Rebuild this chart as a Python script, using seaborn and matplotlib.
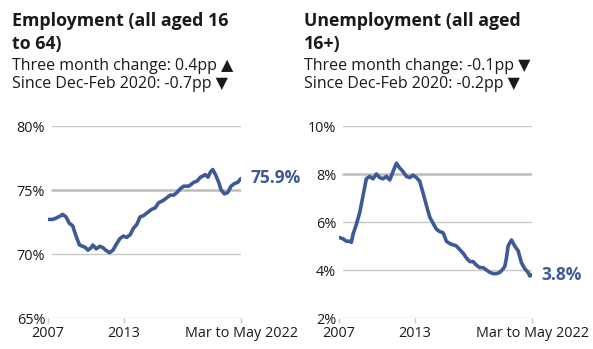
import numpy as np
import pandas as pd
import matplotlib
matplotlib.use("Agg")
import matplotlib.pyplot as plt
import seaborn as sns

sns.set_theme(style="white")
plt.rcParams['font.family'] = ['Open Sans', 'DejaVu Sans']

# ---- data (decimal years, % values) ----
emp_years = [2007.05, 2007.37, 2007.63, 2008.03, 2008.16, 2008.43, 2008.70, 2008.96, 2009.23,
             2009.50, 2009.77, 2009.98, 2010.17, 2010.43, 2010.56, 2010.83, 2011.10, 2011.36,
             2011.58, 2011.89, 2012.16, 2012.45, 2012.71, 2012.98, 2013.25, 2013.52, 2013.78,
             2014.05, 2014.32, 2014.59, 2014.85, 2015.25, 2015.51, 2015.78, 2016.18, 2016.44,
             2016.71, 2016.98, 2017.24, 2017.51, 2017.78, 2018.18, 2018.58, 2018.84, 2019.11,
             2019.32, 2019.50, 2019.71, 2019.90, 2020.09, 2020.35, 2020.56, 2020.75, 2021.01,
             2021.28, 2021.54, 2021.81, 2022.07, 2022.33]
emp_values = [72.7, 72.7, 72.8, 73.0, 73.1, 72.9, 72.4, 72.2, 71.4,
              70.7, 70.6, 70.5, 70.3, 70.5, 70.7, 70.4, 70.6, 70.5,
              70.3, 70.1, 70.3, 70.8, 71.2, 71.4, 71.3, 71.5, 72.0,
              72.3, 72.9, 73.0, 73.2, 73.5, 73.6, 74.0, 74.2, 74.4,
              74.6, 74.6, 74.8, 75.1, 75.3, 75.3, 75.6, 75.7, 76.0,
              76.1, 76.2, 76.0, 76.4, 76.6, 76.1, 75.6, 75.0, 74.7,
              74.8, 75.3, 75.5, 75.6, 75.9]

unemp_years = [2007.05, 2007.32, 2007.58, 2007.85, 2007.98, 2008.12, 2008.38, 2008.65, 2008.91,
               2009.17, 2009.44, 2009.70, 2009.97, 2010.23, 2010.50, 2010.76, 2011.03, 2011.29,
               2011.56, 2011.82, 2012.09, 2012.35, 2012.62, 2012.88, 2013.15, 2013.41, 2013.68,
               2013.94, 2014.21, 2014.47, 2014.74, 2015.00, 2015.27, 2015.53, 2015.80, 2016.06,
               2016.33, 2016.59, 2016.86, 2017.12, 2017.39, 2017.65, 2017.92, 2018.18, 2018.45,
               2018.71, 2018.98, 2019.24, 2019.51, 2019.77, 2020.04, 2020.17, 2020.30, 2020.43,
               2020.70, 2020.96, 2021.23, 2021.49, 2021.76, 2022.02, 2022.15, 2022.33]
unemp_values = [5.35, 5.3, 5.2, 5.2, 5.15, 5.5, 5.9, 6.4, 7.1,
                7.8, 7.9, 7.8, 8.0, 7.85, 7.8, 7.9, 7.75, 8.1,
                8.45, 8.25, 8.1, 7.9, 7.85, 7.95, 7.85, 7.7, 7.2,
                6.7, 6.2, 5.95, 5.7, 5.6, 5.55, 5.2, 5.1, 5.05,
                5.0, 4.85, 4.7, 4.5, 4.35, 4.35, 4.2, 4.1, 4.1,
                4.0, 3.9, 3.85, 3.85, 3.9, 4.05, 4.15, 4.5, 5.0,
                5.25, 5.0, 4.8, 4.3, 4.05, 3.9, 3.75, 3.8]

titles = ["Employment (all aged 16\nto 64)", "Unemployment (all aged\n16+)"]
subtitles = ["Three month change: 0.4pp \u25b2\nSince Dec-Feb 2020: -0.7pp \u25bc",
             "Three month change: -0.1pp \u25bc\nSince Dec-Feb 2020: -0.2pp \u25bc"]
end_labels = ["75.9%", "3.8%"]
y_ticks = [[65, 70, 75, 80], [2, 4, 6, 8, 10]]
y_ticklabels = [["65%", "70%", "75%", "80%"], ["2%", "4%", "6%", "8%", "10%"]]
highlight = [75, 8]
x_ticks = [2007.0, 2013.0, 2022.33]
x_ticklabels = ["2007", "2013", "Mar to May 2022"]

LINE = "#3d5a96"
GRID = "#c8c8c8"
TXT = "#1a1a1a"

W, H = 593, 349
fig = plt.figure(figsize=(W / 100, H / 100), dpi=100)

axes_px = [(48, 241), (339, 532)]
top_px, bot_px = 126, 318

series = [(emp_years, emp_values), (unemp_years, unemp_values)]
title_x = [12, 304]

for i in range(2):
    l, r = axes_px[i]
    ax = fig.add_axes([l / W, 1 - bot_px / H, (r - l) / W, (bot_px - top_px) / H])
    df = pd.DataFrame({"year": series[i][0], "value": series[i][1]})
    sns.lineplot(data=df, x="year", y="value", ax=ax, color=LINE, linewidth=2.6, zorder=3)
    ax.set_xlim(2007.0, 2022.33)
    ax.set_ylim(y_ticks[i][0], y_ticks[i][-1])
    for v in y_ticks[i]:
        lw = 1.8 if v == highlight[i] else 1.0
        col = "#bdbdbd" if v == highlight[i] else GRID
        ax.axhline(v, xmin=0.02, xmax=1, color=col, lw=lw, zorder=1)
    ax.set_yticks(y_ticks[i])
    ax.set_yticklabels(y_ticklabels[i], fontsize=10.4, color=TXT)
    ax.set_xticks(x_ticks)
    ax.set_xticklabels(x_ticklabels, fontsize=10.4, color=TXT)
    ax.tick_params(axis="y", length=0, pad=2)
    ax.tick_params(axis="x", length=3.6, width=1, color=GRID, pad=2, bottom=True)
    for s in ax.spines.values():
        s.set_visible(False)
    ax.set_xlabel("")
    ax.set_ylabel("")
    ax.annotate(end_labels[i], xy=(series[i][0][-1], series[i][1][-1]),
                xytext=(6.5, 0), textcoords="offset points", va="center", ha="left",
                fontsize=12.5, fontweight="bold", color=LINE, annotation_clip=False)
    fig.text(title_x[i] / W, 1 - 12.5 / H, titles[i], fontsize=12.8, fontweight="bold",
             color=TXT, va="top", ha="left", linespacing=1.32)
    fig.text(title_x[i] / W, 1 - 58 / H, subtitles[i], fontsize=11.5,
             color=TXT, va="top", ha="left", linespacing=1.16)

fig.savefig("out.png", dpi=100, facecolor="white")
